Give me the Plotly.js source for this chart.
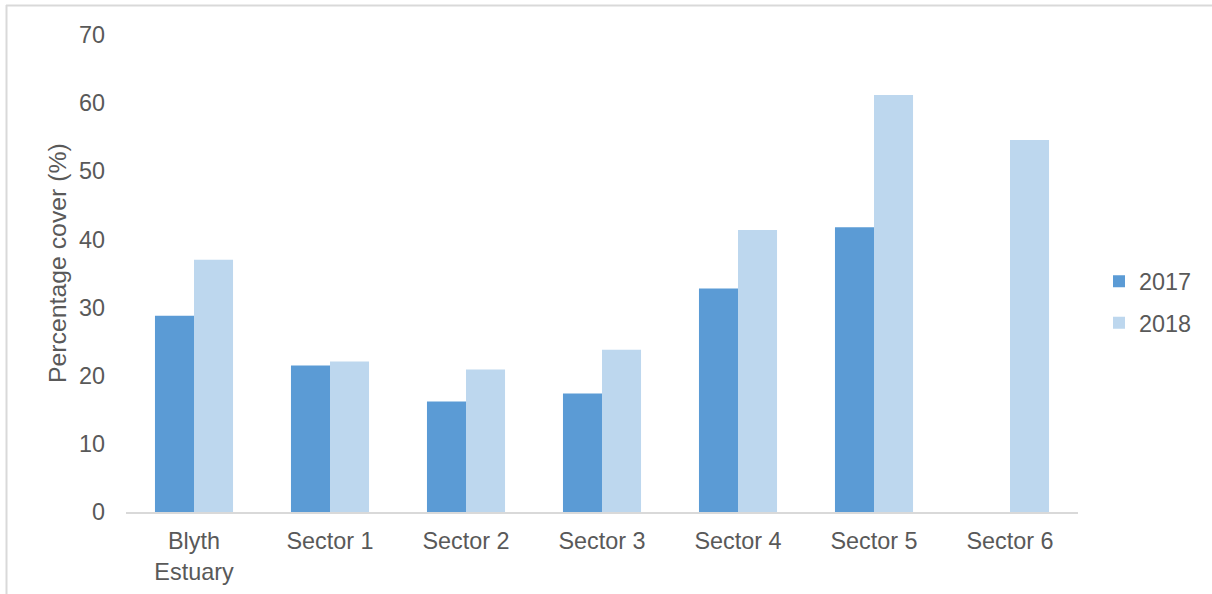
<!DOCTYPE html>
<html>
<head>
<meta charset="utf-8">
<script src="https://cdn.plot.ly/plotly-3.0.1.min.js"></script>
<style>html,body{margin:0;padding:0;background:#fff;}#chart{width:1212px;height:594px;}</style>
</head>
<body>
<div id="chart"></div>
<script>
const categories = ["Blyth<br>Estuary", "Sector 1", "Sector 2", "Sector 3", "Sector 4", "Sector 5", "Sector 6"];
const series2017 = [28.8, 21.5, 16.2, 17.4, 32.8, 41.8, null];
const series2018 = [37.0, 22.1, 20.9, 23.8, 41.4, 61.2, 54.6];
const seriesNames = ["2017", "2018"];
const yTicks = [0, 10, 20, 30, 40, 50, 60, 70];

const W = 1212, H = 594, L = 126, R = 134, T = 35, B = 82;
const pw = W - L - R, ph = H - T - B;
const px = x => (x - L) / pw;
const py = y => (H - B - y) / ph;

const font = "Liberation Sans, Arial, sans-serif";
const textColor = "#595959";
const fs = 23.4;

const traces = [
  {type: "bar", name: seriesNames[0], x: categories, y: series2017,
   marker: {color: "#5B9BD5"}, legendgroup: "a"},
  {type: "bar", name: seriesNames[1], x: categories, y: series2018,
   marker: {color: "#BDD7EE"}, legendgroup: "b"}
];

const layout = {
  width: W, height: H,
  margin: {l: L, r: R, t: T, b: B, pad: 0},
  paper_bgcolor: "#fff", plot_bgcolor: "#fff",
  font: {family: font, size: fs, color: textColor},
  barmode: "group", bargap: 0.426, bargroupgap: 0,
  xaxis: {
    type: "category", showgrid: false, zeroline: false,
    showline: true, linecolor: "#D9D9D9", linewidth: 2,
    ticks: "", ticklabelstandoff: 7,
    tickfont: {family: font, size: fs, color: textColor}
  },
  yaxis: {
    range: [0, 70], tickvals: yTicks, showgrid: false, zeroline: false,
    showline: false, ticks: "", ticklabelstandoff: 20,
    tickfont: {family: font, size: fs, color: textColor}
  },
  legend: {
    x: px(1099), y: py(302), xanchor: "left", yanchor: "middle",
    traceorder: "grouped", tracegroupgap: 8,
    font: {family: font, size: fs, color: textColor},
    bgcolor: "rgba(0,0,0,0)"
  },
  annotations: [{
    text: "Percentage cover (%)", textangle: -90, showarrow: false,
    xref: "paper", yref: "paper", x: px(57), y: py(263),
    xanchor: "center", yanchor: "middle",
    font: {family: font, size: 24.8, color: textColor}
  }],
  shapes: [
    {type: "line", xref: "paper", yref: "paper", x0: px(6), x1: px(1212), y0: py(5.5), y1: py(5.5),
     line: {color: "#D9D9D9", width: 2}},
    {type: "line", xref: "paper", yref: "paper", x0: px(6.5), x1: px(6.5), y0: py(5), y1: py(594),
     line: {color: "#D9D9D9", width: 2}}
  ],
  showlegend: true
};

Plotly.newPlot("chart", traces, layout, {displayModeBar: false, staticPlot: true});
</script>
</body>
</html>
